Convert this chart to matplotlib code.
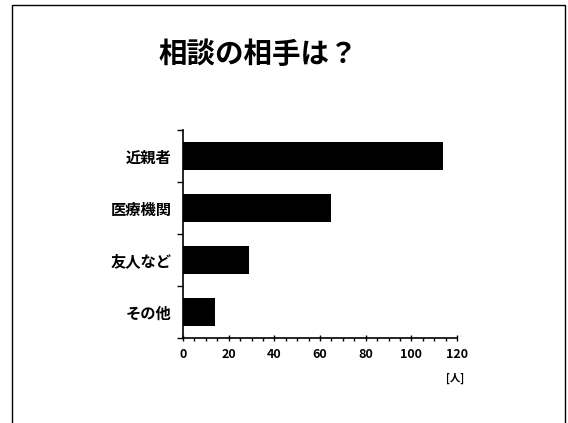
import matplotlib
matplotlib.use("Agg")
import matplotlib.pyplot as plt
from matplotlib.patches import Rectangle
from matplotlib.ticker import MultipleLocator

plt.rcParams['font.family'] = ['Noto Sans CJK JP', 'DejaVu Sans']

title = "相談の相手は？"
categories = ["近親者", "医療機関", "友人など", "その他"]
values = [114, 65, 29, 14]
xticks = [0, 20, 40, 60, 80, 100, 120]
unit_label = "[人]"

fig = plt.figure(figsize=(5.68, 4.23), dpi=100)
fig.patch.set_facecolor("white")

# outer frame
fig.patches.append(Rectangle((12/568, -0.01), (565-12)/568, 1 - 5/423 + 0.01,
                             transform=fig.transFigure, fill=False,
                             edgecolor="black", linewidth=1.0))

fig.text(258/568, 1 - 55/423, title, ha="center", va="center",
         fontsize=20.5, fontweight="bold")

ax = fig.add_axes([183/568, 1 - 338/423, (457-183)/568, (338-130)/423])
ypos = list(range(len(categories)))
ax.barh(ypos, values, height=0.53, color="black")
ax.set_ylim(len(categories) - 0.5, -0.5)
ax.set_xlim(0, 120)

ax.spines['top'].set_visible(False)
ax.spines['right'].set_visible(False)
ax.spines['left'].set_linewidth(1.2)
ax.spines['bottom'].set_linewidth(1.2)

ax.set_yticks([y - 0.5 for y in range(len(categories) + 1)], minor=False)
ax.set_yticklabels([])
ax.set_yticks(ypos, minor=True)
ax.set_yticklabels(categories, minor=True, fontsize=11, fontweight="bold")
ax.tick_params(axis='y', which='major', length=4, width=1, direction='out')
ax.tick_params(axis='y', which='minor', length=0, pad=8)

ax.set_xticks(xticks)
ax.set_xticklabels([str(t) for t in xticks], fontsize=9, fontweight="bold")
ax.xaxis.set_minor_locator(MultipleLocator(5))
ax.tick_params(axis='x', which='major', length=4, width=1, direction='inout', pad=5)
ax.tick_params(axis='x', which='minor', length=2, width=1, direction='out')

fig.text(455/568, 1 - 378/423, unit_label, ha="center", va="center",
         fontsize=7.5, fontweight="bold")

fig.savefig("out.png", dpi=100, facecolor="white")
